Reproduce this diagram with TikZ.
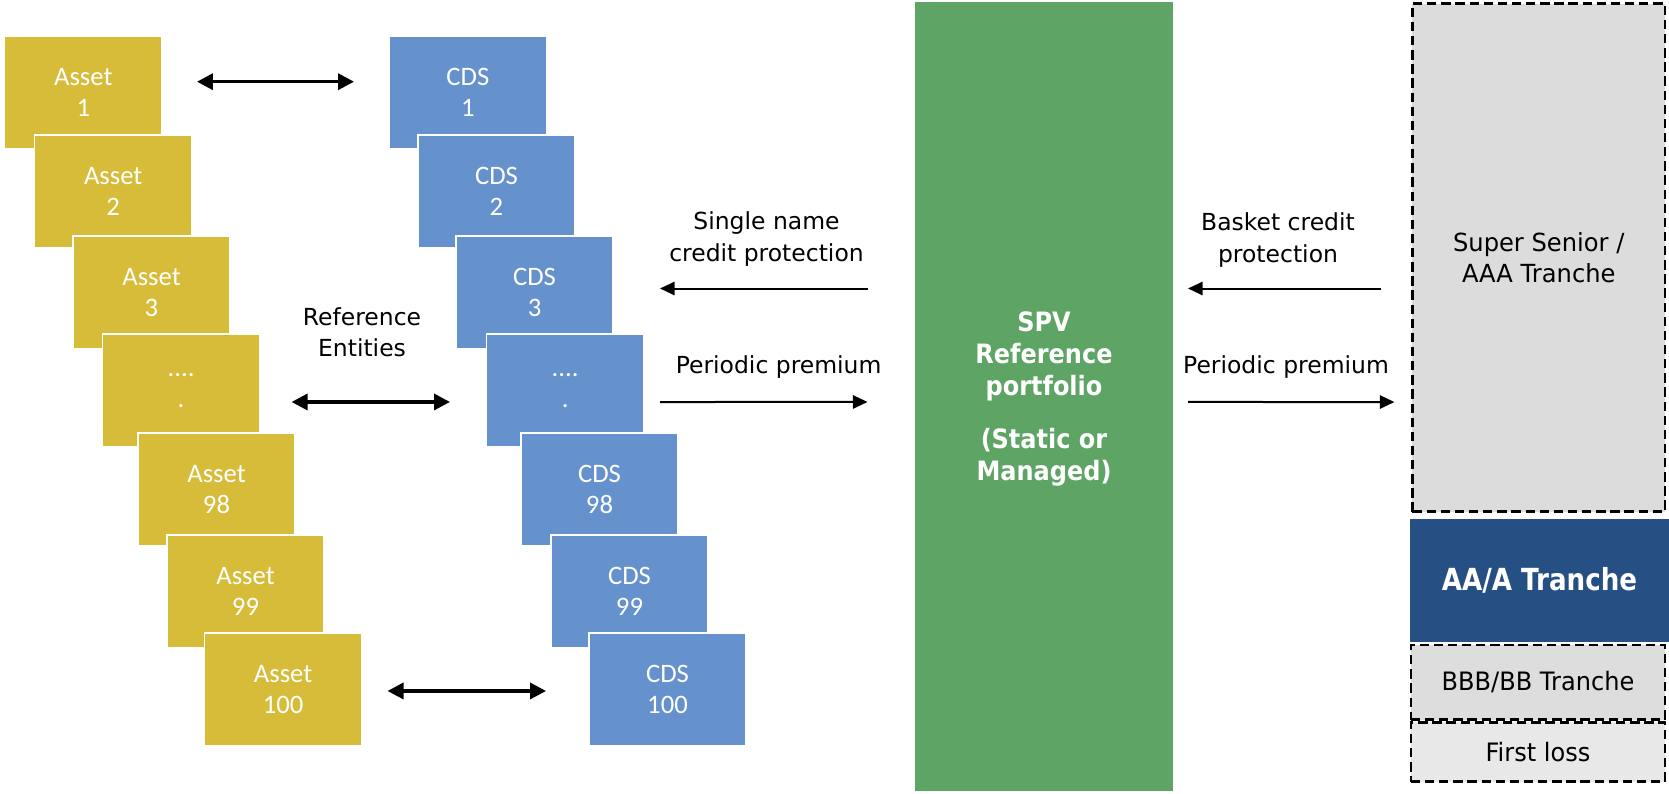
\documentclass[tikz,border=0pt]{standalone}
\usepackage{fontspec}
\usetikzlibrary{arrows.meta}
\newfontfamily\boxfont{Carlito}
\newfontfamily\lblfont{DejaVu Sans}
\newfontfamily\spvfont[FakeStretch=0.9]{DejaVu Sans Bold}
\newfontfamily\aafont[FakeStretch=0.86]{DejaVu Sans Bold}
\newfontfamily\ssfont[FakeStretch=0.97]{DejaVu Sans}
\newfontfamily\trfont[FakeStretch=0.95]{DejaVu Sans}
\definecolor{assetc}{HTML}{D6BC39}
\definecolor{cdsc}{HTML}{6591CC}
\definecolor{spvc}{HTML}{5EA465}
\definecolor{ssc}{HTML}{DCDCDC}
\definecolor{aac}{HTML}{264F84}
\definecolor{bbbc}{HTML}{DDDDDD}
\definecolor{flc}{HTML}{E8E8E8}
\tikzset{
  entity/.style={minimum width=118pt, minimum height=85pt, draw=white, line width=1.1pt,
    inner sep=0pt, outer sep=0pt, align=center, text=white,
    font=\boxfont\fontsize{20}{23.5}\selectfont},
  asset/.style={entity, fill=assetc},
  cds/.style={entity, fill=cdsc},
  dbl/.style={{Triangle[length=12pt,width=12pt]}-{Triangle[length=12pt,width=12pt]}, line width=2.5pt},
  sarr/.style={-{Triangle[length=11pt,width=10pt]}, line width=1.5pt},
  lbl/.style={align=center, inner sep=0pt, font=\lblfont\fontsize{17.6}{23.5}\selectfont},
  spvtxt/.style={align=center, inner sep=0pt, text=white, font=\spvfont\fontsize{20}{24}\selectfont},
  tranche/.style={inner sep=0pt, outer sep=0pt, align=center},
  dashbox/.style={tranche, draw=black, line width=2pt, dash pattern=on 7pt off 3.6pt},
}
\begin{document}
\begin{tikzpicture}[x=0.75pt, y=-0.75pt]
\useasboundingbox (0,0) rectangle (1669,793);
% asset stack
\node[asset] (a1) at (83.3,92.5) {Asset\\1};
\node[asset] (a2) at (113.2,191.5) {Asset\\2};
\node[asset] (a3) at (151.5,292.5) {Asset\\3};
\node[asset] (a4) at (181.1,390.5) {....\\.};
\node[asset] (a5) at (216.5,489.5) {Asset\\98};
\node[asset] (a6) at (245.5,591.5) {Asset\\99};
\node[asset] (a7) at (283.1,689.5) {Asset\\100};
% CDS stack
\node[cds] (c1) at (467.9,92.5) {CDS\\1};
\node[cds] (c2) at (496.5,191.5) {CDS\\2};
\node[cds] (c3) at (534.5,292.5) {CDS\\3};
\node[cds] (c4) at (565.2,390.5) {....\\.};
\node[cds] (c5) at (599.5,489.5) {CDS\\98};
\node[cds] (c6) at (629.5,591.5) {CDS\\99};
\node[cds] (c7) at (667.5,689.5) {CDS\\100};
% double arrows
\draw[dbl] ([xshift=26.25pt,yshift=8.1pt]a1.east) -- ([xshift=-26.4pt,yshift=8.1pt]c1.west);
\draw[dbl] ([xshift=23.85pt,yshift=-8.6pt]a4.east) -- ([xshift=-27.4pt,yshift=-8.6pt]c4.west);
\draw[dbl] ([xshift=19.3pt,yshift=-1.1pt]a7.east) -- ([xshift=-32.1pt,yshift=-1.1pt]c7.west);
\node[lbl] (ref) at (362,332.5) {Reference\\Entities};
% SPV
\node[tranche, fill=spvc, minimum width=193.5pt, minimum height=591.75pt] (spv) at (1044,396.5) {};
\node[spvtxt] (spvt1) at (1044,356) {SPV\\Reference\\portfolio};
\node[spvtxt] (spvt2) at (1044,457.5) {(Static or\\Managed)};
% tranches
\node[dashbox, fill=ssc, minimum width=189.5pt, minimum height=381pt, font=\ssfont\fontsize{18.7}{23}\selectfont] (ss) at (1538.75,257.5) {Super Senior /\\AAA Tranche};
\node[tranche, fill=aac, text=white, minimum width=194.25pt, minimum height=92.25pt, font=\aafont\fontsize{22.8}{28}\selectfont] (aa) at (1539.5,580.5) {AA/A Tranche};
\node[dashbox, fill=bbbc, minimum width=190.7pt, minimum height=56.1pt, font=\trfont\fontsize{19}{23}\selectfont] (bbb) at (1538,682.25) {BBB/BB Tranche};
\node[dashbox, fill=flc, minimum width=190.7pt, minimum height=44.5pt, font=\trfont\fontsize{19}{23}\selectfont] (fl) at (1538,752) {First loss};
% left labels and arrows
\coordinate (tip1) at (660,288.5);
\coordinate (tail2) at (660,402);
\node[lbl] (snl) at (766.5,239) {Single name\\credit protection};
\node[lbl] (pp1) at (778.6,367) {Periodic premium};
\draw[sarr] ([xshift=-35.6pt,yshift=81pt]spv.west) -- (tip1);
\draw[sarr] (tail2) -- ([xshift=-35.6pt,yshift=-4.1pt]spv.west);
% right labels and arrows
\node[lbl] (bcp) at (1278,240) {Basket credit\\protection};
\node[lbl] (pp2) at (1286,367.5) {Periodic premium};
\draw[sarr] ([xshift=-23.6pt,yshift=-23.25pt]ss.west) -- ([xshift=11.25pt,yshift=81pt]spv.east);
\draw[sarr] ([xshift=11.25pt,yshift=-4.1pt]spv.east) -- ([xshift=-13.5pt,yshift=-108.4pt]ss.west);
\end{tikzpicture}
\end{document}
